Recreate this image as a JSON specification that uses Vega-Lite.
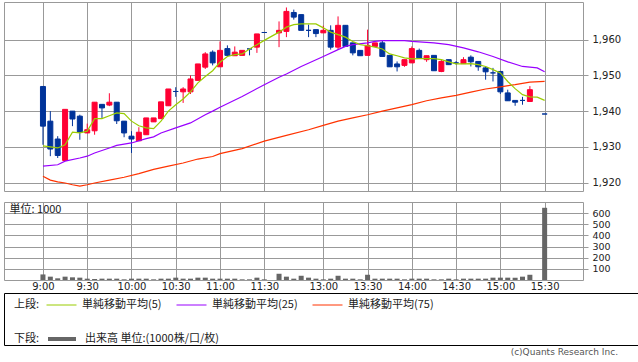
{
  "$schema": "https://vega.github.io/schema/vega-lite/v6.json",
  "padding": {"left": 3, "top": 1, "right": 0, "bottom": 0},
  "background": "white",
  "config": {
    "view": {"stroke": "#999", "strokeWidth": 1},
    "font": "Noto Sans CJK JP",
    "axis": {"gridColor": "#999", "gridOpacity": 1, "gridWidth": 1, "labelFont": "DejaVu Sans", "labelFontSize": 10, "labelColor": "#222", "tickColor": "#999", "domain": false},
    "legend": {"labelFont": "Noto Sans CJK JP", "titleFont": "Noto Sans CJK JP", "labelFontSize": 11, "titleFontSize": 11, "titleFontWeight": "normal", "labelColor": "#222", "titleColor": "#222"},
    "title": {"font": "Noto Sans CJK JP"}
  },
  "datasets": {
    "candles": [
      {"i": 0, "o": 1946.9, "h": 1946.9, "l": 1930.6, "c": 1935.8, "v": 50},
      {"i": 1, "o": 1937.2, "h": 1940.0, "l": 1927.4, "c": 1929.4, "v": 30},
      {"i": 2, "o": 1932.2, "h": 1933.0, "l": 1926.9, "c": 1927.6, "v": 15},
      {"i": 3, "o": 1926.2, "h": 1940.5, "l": 1926.2, "c": 1940.5, "v": 30},
      {"i": 4, "o": 1940.0, "h": 1940.0, "l": 1935.8, "c": 1937.8, "v": 24},
      {"i": 5, "o": 1938.6, "h": 1939.0, "l": 1932.0, "c": 1934.1, "v": 21},
      {"i": 6, "o": 1933.9, "h": 1936.5, "l": 1933.9, "c": 1934.8, "v": 12},
      {"i": 7, "o": 1934.5, "h": 1942.5, "l": 1933.4, "c": 1942.5, "v": 9},
      {"i": 8, "o": 1941.9, "h": 1941.9, "l": 1938.1, "c": 1940.9, "v": 12},
      {"i": 9, "o": 1941.7, "h": 1945.0, "l": 1941.4, "c": 1942.5, "v": 12},
      {"i": 10, "o": 1942.5, "h": 1942.5, "l": 1936.4, "c": 1937.3, "v": 12},
      {"i": 11, "o": 1937.2, "h": 1937.2, "l": 1932.7, "c": 1933.9, "v": 6},
      {"i": 12, "o": 1933.0, "h": 1934.4, "l": 1928.3, "c": 1932.2, "v": 12},
      {"i": 13, "o": 1931.7, "h": 1935.5, "l": 1931.7, "c": 1934.1, "v": 12},
      {"i": 14, "o": 1933.4, "h": 1938.1, "l": 1933.4, "c": 1938.1, "v": 12},
      {"i": 15, "o": 1937.0, "h": 1938.1, "l": 1937.0, "c": 1938.1, "v": 6},
      {"i": 16, "o": 1937.9, "h": 1942.6, "l": 1937.9, "c": 1942.6, "v": 12},
      {"i": 17, "o": 1941.5, "h": 1946.2, "l": 1941.5, "c": 1946.2, "v": 12},
      {"i": 18, "o": 1945.5, "h": 1946.7, "l": 1944.0, "c": 1945.5, "v": 21},
      {"i": 19, "o": 1945.4, "h": 1946.7, "l": 1942.3, "c": 1946.2, "v": 12},
      {"i": 20, "o": 1945.4, "h": 1950.0, "l": 1944.8, "c": 1949.0, "v": 12},
      {"i": 21, "o": 1948.6, "h": 1953.2, "l": 1948.6, "c": 1953.2, "v": 21},
      {"i": 22, "o": 1952.3, "h": 1956.5, "l": 1951.8, "c": 1956.0, "v": 21},
      {"i": 23, "o": 1956.5, "h": 1957.0, "l": 1952.8, "c": 1953.5, "v": 12},
      {"i": 24, "o": 1952.4, "h": 1959.5, "l": 1952.4, "c": 1957.0, "v": 12},
      {"i": 25, "o": 1957.5, "h": 1958.4, "l": 1955.2, "c": 1955.6, "v": 12},
      {"i": 26, "o": 1955.5, "h": 1958.1, "l": 1955.5, "c": 1956.5, "v": 12},
      {"i": 27, "o": 1955.6, "h": 1957.0, "l": 1955.6, "c": 1957.0, "v": 6},
      {"i": 28, "o": 1957.4, "h": 1957.4, "l": 1955.6, "c": 1957.4, "v": 6},
      {"i": 29, "o": 1957.9, "h": 1961.6, "l": 1956.3, "c": 1961.6, "v": 21},
      {"i": 30, "o": 1962.0, "h": 1962.0, "l": 1962.0, "c": 1962.0, "v": 6},
      {"i": 32, "o": 1961.9, "h": 1965.1, "l": 1957.9, "c": 1962.6, "v": 56},
      {"i": 33, "o": 1962.3, "h": 1969.0, "l": 1960.7, "c": 1967.9, "v": 30},
      {"i": 34, "o": 1967.6, "h": 1968.4, "l": 1965.6, "c": 1966.3, "v": 12},
      {"i": 35, "o": 1967.0, "h": 1967.0, "l": 1962.6, "c": 1962.6, "v": 38},
      {"i": 36, "o": 1962.6, "h": 1964.2, "l": 1960.7, "c": 1962.6, "v": 21},
      {"i": 37, "o": 1962.8, "h": 1962.8, "l": 1960.7, "c": 1961.7, "v": 12},
      {"i": 38, "o": 1961.9, "h": 1963.9, "l": 1961.9, "c": 1962.6, "v": 6},
      {"i": 39, "o": 1962.6, "h": 1964.0, "l": 1957.2, "c": 1957.9, "v": 12},
      {"i": 40, "o": 1957.9, "h": 1966.5, "l": 1957.2, "c": 1964.0, "v": 38},
      {"i": 41, "o": 1964.0, "h": 1964.0, "l": 1958.1, "c": 1958.1, "v": 12},
      {"i": 42, "o": 1959.1, "h": 1959.1, "l": 1955.6, "c": 1956.3, "v": 12},
      {"i": 43, "o": 1957.0, "h": 1957.0, "l": 1955.5, "c": 1955.5, "v": 6},
      {"i": 44, "o": 1955.6, "h": 1962.8, "l": 1955.6, "c": 1958.4, "v": 47},
      {"i": 45, "o": 1958.1, "h": 1959.1, "l": 1958.1, "c": 1959.1, "v": 12},
      {"i": 46, "o": 1959.1, "h": 1959.7, "l": 1955.3, "c": 1955.3, "v": 12},
      {"i": 47, "o": 1955.6, "h": 1955.6, "l": 1952.4, "c": 1952.4, "v": 12},
      {"i": 48, "o": 1953.2, "h": 1953.9, "l": 1951.1, "c": 1952.4, "v": 12},
      {"i": 49, "o": 1952.8, "h": 1954.4, "l": 1952.4, "c": 1954.4, "v": 6},
      {"i": 50, "o": 1953.5, "h": 1958.1, "l": 1953.5, "c": 1957.5, "v": 12},
      {"i": 51, "o": 1957.0, "h": 1957.5, "l": 1954.9, "c": 1954.9, "v": 12},
      {"i": 52, "o": 1954.4, "h": 1955.5, "l": 1953.8, "c": 1955.5, "v": 12},
      {"i": 53, "o": 1955.6, "h": 1955.6, "l": 1951.3, "c": 1951.3, "v": 6},
      {"i": 54, "o": 1951.1, "h": 1954.4, "l": 1950.9, "c": 1953.9, "v": 6},
      {"i": 55, "o": 1954.4, "h": 1954.4, "l": 1953.0, "c": 1953.0, "v": 12},
      {"i": 56, "o": 1953.5, "h": 1954.0, "l": 1953.0, "c": 1953.5, "v": 6},
      {"i": 57, "o": 1953.3, "h": 1955.1, "l": 1953.3, "c": 1954.4, "v": 12},
      {"i": 58, "o": 1955.1, "h": 1955.6, "l": 1952.5, "c": 1953.8, "v": 12},
      {"i": 59, "o": 1953.9, "h": 1953.9, "l": 1951.3, "c": 1952.4, "v": 12},
      {"i": 60, "o": 1952.1, "h": 1952.5, "l": 1948.8, "c": 1951.0, "v": 12},
      {"i": 61, "o": 1950.7, "h": 1952.1, "l": 1948.3, "c": 1950.7, "v": 21},
      {"i": 62, "o": 1951.1, "h": 1951.1, "l": 1944.8, "c": 1945.4, "v": 21},
      {"i": 63, "o": 1945.1, "h": 1946.0, "l": 1942.9, "c": 1942.9, "v": 21},
      {"i": 64, "o": 1943.0, "h": 1943.0, "l": 1941.5, "c": 1942.5, "v": 21},
      {"i": 65, "o": 1943.0, "h": 1944.0, "l": 1941.8, "c": 1943.0, "v": 30},
      {"i": 66, "o": 1942.7, "h": 1947.0, "l": 1942.7, "c": 1946.0, "v": 47},
      {"i": 68, "o": 1939.2, "h": 1939.2, "l": 1939.2, "c": 1939.2, "v": 648}
    ],
    "ma5": [
      {"i": 0, "v": 1930.3}, {"i": 1, "v": 1930.0}, {"i": 2, "v": 1929.7}, {"i": 3, "v": 1930.6}, {"i": 4, "v": 1934.1},
      {"i": 5, "v": 1933.9}, {"i": 6, "v": 1934.4}, {"i": 7, "v": 1937.9}, {"i": 8, "v": 1937.9}, {"i": 9, "v": 1938.7},
      {"i": 10, "v": 1939.5}, {"i": 11, "v": 1939.3}, {"i": 12, "v": 1937.2}, {"i": 13, "v": 1935.9}, {"i": 14, "v": 1935.3},
      {"i": 15, "v": 1935.1}, {"i": 16, "v": 1937.2}, {"i": 17, "v": 1940.0}, {"i": 18, "v": 1941.8}, {"i": 19, "v": 1943.4},
      {"i": 20, "v": 1945.4}, {"i": 21, "v": 1947.9}, {"i": 22, "v": 1949.7}, {"i": 23, "v": 1951.3}, {"i": 24, "v": 1953.7},
      {"i": 25, "v": 1955.3}, {"i": 26, "v": 1955.8}, {"i": 27, "v": 1956.0}, {"i": 28, "v": 1957.4}, {"i": 29, "v": 1958.6},
      {"i": 30, "v": 1959.8}, {"i": 32, "v": 1962.1}, {"i": 33, "v": 1963.5}, {"i": 34, "v": 1964.2}, {"i": 35, "v": 1964.4},
      {"i": 36, "v": 1964.4}, {"i": 37, "v": 1964.4}, {"i": 38, "v": 1963.3}, {"i": 39, "v": 1962.1}, {"i": 40, "v": 1961.4},
      {"i": 41, "v": 1960.7}, {"i": 42, "v": 1959.5}, {"i": 43, "v": 1958.6}, {"i": 44, "v": 1958.3}, {"i": 45, "v": 1957.9},
      {"i": 46, "v": 1957.4}, {"i": 47, "v": 1956.0}, {"i": 48, "v": 1955.5}, {"i": 49, "v": 1954.9}, {"i": 50, "v": 1954.6},
      {"i": 51, "v": 1954.7}, {"i": 52, "v": 1954.7}, {"i": 53, "v": 1954.7}, {"i": 54, "v": 1954.4}, {"i": 55, "v": 1953.8},
      {"i": 56, "v": 1953.2}, {"i": 57, "v": 1953.2}, {"i": 58, "v": 1953.3}, {"i": 59, "v": 1953.0}, {"i": 60, "v": 1952.5},
      {"i": 61, "v": 1951.6}, {"i": 62, "v": 1950.7}, {"i": 63, "v": 1948.3}, {"i": 64, "v": 1946.3}, {"i": 65, "v": 1944.6},
      {"i": 66, "v": 1944.0}, {"i": 67, "v": 1943.9}, {"i": 68, "v": 1943.0}
    ],
    "ma25": [
      {"i": 0, "v": 1924.6}, {"i": 2, "v": 1925.0}, {"i": 3, "v": 1926.0}, {"i": 5, "v": 1926.9}, {"i": 6, "v": 1927.4},
      {"i": 7, "v": 1928.3}, {"i": 9, "v": 1929.7}, {"i": 10, "v": 1930.4}, {"i": 12, "v": 1931.1}, {"i": 14, "v": 1932.3},
      {"i": 15, "v": 1932.8}, {"i": 16, "v": 1933.9}, {"i": 18, "v": 1935.3}, {"i": 20, "v": 1936.7}, {"i": 22, "v": 1939.0},
      {"i": 23, "v": 1940.0}, {"i": 24, "v": 1941.1}, {"i": 27, "v": 1944.1}, {"i": 30, "v": 1947.4}, {"i": 32, "v": 1949.5},
      {"i": 33, "v": 1950.4}, {"i": 35, "v": 1952.5}, {"i": 38, "v": 1955.3}, {"i": 40, "v": 1957.2}, {"i": 41, "v": 1958.1},
      {"i": 42, "v": 1958.6}, {"i": 44, "v": 1959.1}, {"i": 45, "v": 1959.5}, {"i": 46, "v": 1959.7}, {"i": 49, "v": 1959.7},
      {"i": 50, "v": 1959.5}, {"i": 53, "v": 1959.1}, {"i": 55, "v": 1958.6}, {"i": 57, "v": 1957.7}, {"i": 59, "v": 1956.6},
      {"i": 61, "v": 1955.3}, {"i": 63, "v": 1953.8}, {"i": 65, "v": 1952.5}, {"i": 66, "v": 1952.3}, {"i": 67, "v": 1952.1},
      {"i": 68, "v": 1951.0}
    ],
    "ma75": [
      {"i": 0, "v": 1921.8}, {"i": 1, "v": 1920.7}, {"i": 2, "v": 1920.2}, {"i": 3, "v": 1919.9}, {"i": 4, "v": 1919.4},
      {"i": 5, "v": 1919.0}, {"i": 6, "v": 1919.4}, {"i": 7, "v": 1919.9}, {"i": 9, "v": 1920.7}, {"i": 11, "v": 1921.5},
      {"i": 13, "v": 1922.5}, {"i": 15, "v": 1923.7}, {"i": 17, "v": 1924.6}, {"i": 19, "v": 1925.5}, {"i": 21, "v": 1926.6},
      {"i": 23, "v": 1927.3}, {"i": 24, "v": 1928.1}, {"i": 27, "v": 1929.5}, {"i": 30, "v": 1931.6}, {"i": 33, "v": 1933.2},
      {"i": 36, "v": 1934.8}, {"i": 38, "v": 1936.0}, {"i": 40, "v": 1937.2}, {"i": 42, "v": 1938.1}, {"i": 44, "v": 1939.0},
      {"i": 46, "v": 1940.0}, {"i": 48, "v": 1940.9}, {"i": 50, "v": 1941.8}, {"i": 52, "v": 1942.9}, {"i": 54, "v": 1943.7},
      {"i": 56, "v": 1944.4}, {"i": 58, "v": 1945.3}, {"i": 60, "v": 1946.2}, {"i": 62, "v": 1946.8}, {"i": 64, "v": 1947.4},
      {"i": 66, "v": 1948.1}, {"i": 68, "v": 1948.3}
    ]
  },
  "spacing": 0,
  "vconcat": [
    {
      "spacing": 9,
      "vconcat": [
        {
          "width": 579,
          "height": 189,
          "layer": [
            {
              "data": {"name": "candles"},
              "mark": {"type": "rule", "strokeWidth": 1},
              "encoding": {
                "x": {"field": "i", "type": "quantitative", "title": null,
                  "scale": {"domain": [-5.28, 73.2], "nice": false, "zero": false, "padding": 0},
                  "axis": {"values": [0, 6, 12, 18, 24, 30, 38, 44, 50, 56, 62, 68], "grid": true, "labels": false, "ticks": false, "tickSize": 0}},
                "y": {"field": "l", "type": "quantitative", "title": null,
                  "scale": {"domain": [1917.66, 1970.53], "nice": false, "zero": false, "padding": 0},
                  "axis": {"orient": "right", "values": [1920, 1930, 1940, 1950, 1960], "format": ",d", "tickSize": 5, "labelPadding": 4}},
                "y2": {"field": "h"},
                "color": {"condition": {"test": "datum.c > datum.o", "value": "#ff0033"}, "value": "#003399"}
              }
            },
            {
              "data": {"name": "candles"},
              "mark": {"type": "bar", "width": 5, "strokeWidth": 1},
              "encoding": {
                "x": {"field": "i", "type": "quantitative", "title": null},
                "y": {"field": "o", "type": "quantitative", "title": null},
                "y2": {"field": "c"},
                "color": {"condition": {"test": "datum.c > datum.o", "value": "#ff0033"}, "value": "#003399"},
                "stroke": {"condition": {"test": "datum.c > datum.o", "value": "#ff0033"}, "value": "#003399"}
              }
            },
            {
              "data": {"name": "ma75"},
              "mark": {"type": "line", "color": "#ff3300", "strokeWidth": 1.2},
              "encoding": {
                "x": {"field": "i", "type": "quantitative", "title": null},
                "y": {"field": "v", "type": "quantitative", "title": null}
              }
            },
            {
              "data": {"name": "ma25"},
              "mark": {"type": "line", "color": "#9900ff", "strokeWidth": 1.2},
              "encoding": {
                "x": {"field": "i", "type": "quantitative", "title": null},
                "y": {"field": "v", "type": "quantitative", "title": null}
              }
            },
            {
              "data": {"name": "ma5"},
              "mark": {"type": "line", "color": "#99cc00", "strokeWidth": 1.2},
              "encoding": {
                "x": {"field": "i", "type": "quantitative", "title": null},
                "y": {"field": "v", "type": "quantitative", "title": null}
              }
            }
          ]
        },
        {
          "width": 579,
          "height": 78,
          "data": {"name": "candles"},
          "mark": {"type": "bar", "width": 5, "color": "#666666"},
          "encoding": {
            "x": {"field": "i", "type": "quantitative", "title": null,
              "scale": {"domain": [-5.28, 73.2], "nice": false, "zero": false, "padding": 0},
              "axis": {"values": [0, 6, 12, 18, 24, 30, 38, 44, 50, 56, 62, 68], "grid": true, "ticks": false, "tickSize": 0, "labelPadding": 1, "labelFlush": false, "labelOverlap": false,
                "labelExpr": "datum.value <= 30 ? ['9:00','9:30','10:00','10:30','11:00','11:30'][datum.value / 6] : ['13:00','13:30','14:00','14:30','15:00','15:30'][(datum.value - 38) / 6]"}},
            "y": {"field": "v", "type": "quantitative",
              "scale": {"domain": [0, 700], "nice": false},
              "axis": {"orient": "right", "values": [100, 200, 300, 400, 500, 600], "tickSize": 5, "labelPadding": 4, "labelFontSize": 9.5,
                "title": "単位: 1000", "titleAngle": 0, "titleAlign": "left", "titleBaseline": "top", "titleX": -574, "titleY": 1,
                "titleFontSize": 11, "titleFontWeight": "normal", "titleColor": "#222", "titleFont": "Noto Sans CJK JP"}}
          }
        }
      ]
    },
    {
      "width": 634,
      "height": 52,
      "view": {"stroke": "#000000"},
      "title": {"text": "(c)Quants Research Inc.", "orient": "bottom", "anchor": "end", "font": "DejaVu Sans", "fontSize": 9, "fontWeight": "normal", "color": "#555555", "offset": 3, "dx": -20},
      "layer": [
        {
          "data": {"values": []},
          "mark": {"type": "line", "strokeWidth": 1},
          "encoding": {
            "color": {"field": "s", "type": "nominal",
              "scale": {"domain": ["単純移動平均(5)", "単純移動平均(25)", "単純移動平均(75)"], "range": ["#99cc00", "#9900ff", "#ff3300"]},
              "legend": {"title": "上段:", "orient": "none", "legendX": 10, "legendY": 6, "direction": "horizontal", "titleOrient": "left", "titlePadding": 6,
                "clipHeight": 12,
                "symbolType": "stroke", "symbolSize": 900, "symbolStrokeWidth": 1, "labelOffset": 5, "columnPadding": 14}}
          }
        },
        {
          "data": {"values": []},
          "mark": {"type": "line", "strokeWidth": 4},
          "encoding": {
            "color": {"field": "t", "type": "nominal",
              "scale": {"domain": ["出来高 単位:(1000株/口/枚)"], "range": ["#666666"]},
              "legend": {"title": "下段:", "orient": "none", "legendX": 10, "legendY": 40, "direction": "horizontal", "titleOrient": "left", "titlePadding": 6,
                "clipHeight": 12,
                "symbolType": "stroke", "symbolSize": 784, "symbolStrokeWidth": 4, "labelOffset": 7}}
          }
        }
      ],
      "resolve": {"scale": {"color": "independent"}}
    }
  ]
}
